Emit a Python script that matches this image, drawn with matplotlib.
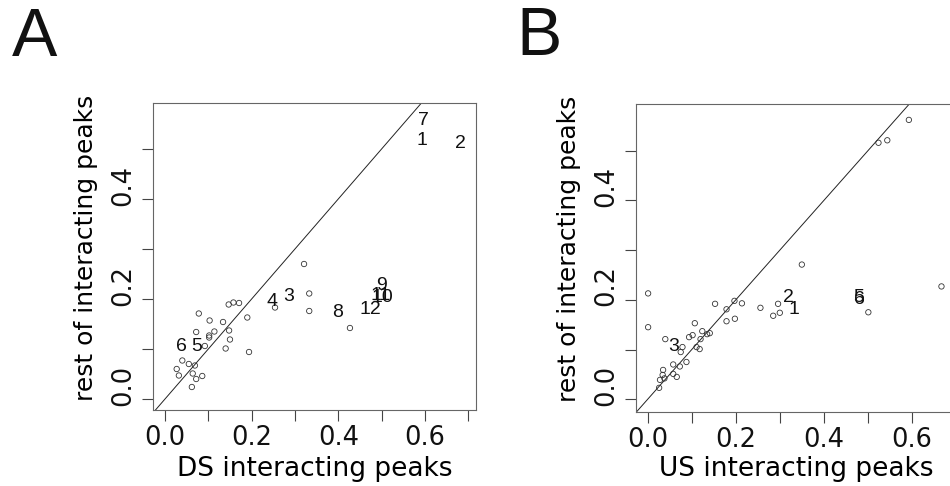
import matplotlib
matplotlib.use('Agg')
import matplotlib.pyplot as plt
import matplotlib.transforms as mtrans

plt.rcParams['font.family'] = ['Liberation Sans', 'DejaVu Sans']

# panel A: DS interacting peaks vs rest of interacting peaks
ds_x = [0.321, 0.333, 0.333, 0.254, 0.427, 0.190, 0.194, 0.147, 0.158, 0.171,
        0.078, 0.103, 0.134, 0.148, 0.114, 0.072, 0.102, 0.102, 0.150, 0.092,
        0.140, 0.040, 0.055, 0.069, 0.027, 0.032, 0.064, 0.086, 0.072, 0.062]
ds_y = [0.270, 0.211, 0.176, 0.183, 0.142, 0.163, 0.094, 0.189, 0.193, 0.192,
        0.171, 0.157, 0.154, 0.137, 0.135, 0.134, 0.127, 0.123, 0.119, 0.106,
        0.101, 0.077, 0.070, 0.067, 0.060, 0.047, 0.051, 0.046, 0.040, 0.024]
ds_lab = ['7', '1', '2', '9', '11', '10', '12', '8', '3', '4', '6', '5']
ds_lab_x = [0.597, 0.593, 0.681, 0.499, 0.497, 0.502, 0.473, 0.399, 0.286, 0.248, 0.038, 0.072]
ds_lab_y = [0.558, 0.518, 0.511, 0.228, 0.208, 0.203, 0.179, 0.173, 0.205, 0.196, 0.105, 0.105]

# panel B: US interacting peaks vs rest of interacting peaks
us_x = [0.593, 0.524, 0.544, 0.350, 0.667, 0.501, 0.001, 0.001, 0.153, 0.197,
        0.214, 0.179, 0.179, 0.198, 0.256, 0.296, 0.300, 0.285, 0.107, 0.102,
        0.094, 0.124, 0.141, 0.135, 0.120, 0.040, 0.111, 0.118, 0.079, 0.075,
        0.088, 0.073, 0.058, 0.058, 0.066, 0.035, 0.034, 0.028, 0.026, 0.038]
us_y = [0.562, 0.516, 0.521, 0.271, 0.227, 0.175, 0.213, 0.145, 0.192, 0.198,
        0.193, 0.181, 0.157, 0.162, 0.184, 0.192, 0.174, 0.168, 0.153, 0.129,
        0.125, 0.137, 0.133, 0.131, 0.121, 0.121, 0.105, 0.101, 0.105, 0.095,
        0.075, 0.066, 0.070, 0.051, 0.045, 0.059, 0.049, 0.039, 0.023, 0.042]
us_lab = ['2', '1', '3', '5', '6']
us_lab_x = [0.320, 0.331, 0.060, 0.480, 0.480]
us_lab_y = [0.204, 0.181, 0.106, 0.204, 0.200]

x_ticks = [0.0, 0.1, 0.2, 0.3, 0.4, 0.5, 0.6, 0.7]
y_ticks = [0.0, 0.1, 0.2, 0.3, 0.4, 0.5]

W, H = 950, 486
fig = plt.figure(figsize=(9.5, 4.86), dpi=100)
wide = ['DejaVu Sans']


def px_axes(l, t, r, b):
    return fig.add_axes([l / W, 1 - b / H, (r - l) / W, (b - t) / H])


def draw_panel(ax, x, y, lab, lx, ly, xlim, ylim):
    ax.scatter(x, y, s=15, facecolors='none', edgecolors='#333333', linewidths=0.6, zorder=3)
    ax.plot([-1, 1], [-1, 1], color='#222222', lw=0.7)
    for t, a, b in zip(lab, lx, ly):
        ax.text(a, b, t, fontsize=14, ha='center', va='center', color='#111111')
    ax.set_xlim(xlim)
    ax.set_ylim(ylim)
    ax.set_xticks(x_ticks)
    ax.set_xticklabels(['%.1f' % v if i % 2 == 0 else '' for i, v in enumerate(x_ticks)],
                       family=wide)
    ax.set_yticks(y_ticks)
    ax.set_yticklabels(['%.1f' % v if i % 2 == 0 else '' for i, v in enumerate(y_ticks)],
                       rotation=90, va='center', family=wide)
    ax.tick_params(direction='out', length=8, width=0.8, color='#444444',
                   labelsize=18.5, labelcolor='#111111')
    ax.tick_params(axis='x', pad=3)
    ax.tick_params(axis='y', pad=4)
    # the reference has its y tick labels sitting a bit above the ticks
    shift = mtrans.ScaledTranslation(0, 0.14, fig.dpi_scale_trans)
    for lbl in ax.get_yticklabels():
        lbl.set_transform(lbl.get_transform() + shift)
    for s in ax.spines.values():
        s.set_color('#666666')
        s.set_linewidth(0.8)


axA = px_axes(153, 103, 476, 410)
draw_panel(axA, ds_x, ds_y, ds_lab, ds_lab_x, ds_lab_y, (-0.0277, 0.718), (-0.022, 0.592))

axB = px_axes(636, 104, 956, 411.7)
draw_panel(axB, us_x, us_y, us_lab, us_lab_x, us_lab_y, (-0.0265, 0.6975), (-0.025, 0.594))

# axis titles and panel letters
fig.text(314.5 / W, 1 - 469 / H, 'DS interacting peaks', fontsize=19, family=wide,
         ha='center', va='center')
fig.text(796 / W, 1 - 469 / H, 'US interacting peaks', fontsize=19, family=wide,
         ha='center', va='center')
fig.text(86 / W, 1 - 248 / H, 'rest of interacting peaks', fontsize=18, family=wide,
         rotation=90, ha='center', va='center')
fig.text(569 / W, 1 - 249 / H, 'rest of interacting peaks', fontsize=18, family=wide,
         rotation=90, ha='center', va='center')
fig.text(34.5 / W, 1 - 37.5 / H, 'A', fontsize=49, ha='center', va='center', color='#111111')
fig.text(539.5 / W, 1 - 37 / H, 'B', fontsize=49, ha='center', va='center', color='#111111')

fig.savefig('out.png', dpi=100)
